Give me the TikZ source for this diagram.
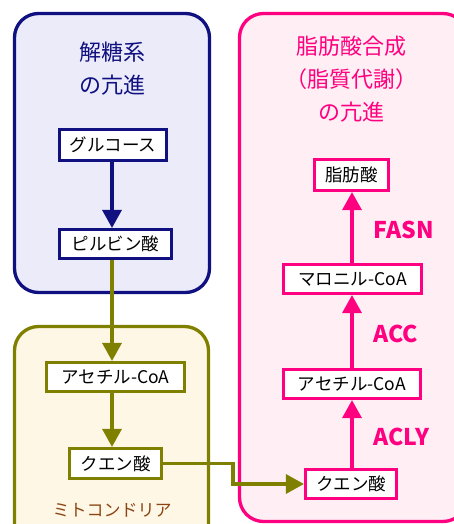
\documentclass[tikz,border=0pt]{standalone}
\usepackage{fontspec}
\setmainfont{Noto Sans CJK JP}
\usetikzlibrary{arrows.meta}
\definecolor{navy}{RGB}{16,16,128}
\definecolor{bluefill}{RGB}{235,235,250}
\definecolor{hotpink}{RGB}{255,0,128}
\definecolor{pinkfill}{RGB}{255,238,243}
\definecolor{olivec}{RGB}{128,128,0}
\definecolor{creamfill}{RGB}{255,247,230}
\definecolor{brownc}{RGB}{139,69,19}
\tikzset{
  container/.style={line width=3.3pt, rounded corners=24pt},
  molbox/.style={draw, fill=white, line width=2.6pt, inner sep=0pt,
    minimum height=29.5pt, font=\fontsize{17.5}{20}\selectfont, text=black},
  conn/.style={line width=3.2pt, -{Triangle[length=18pt,width=19pt]}},
  titletext/.style={align=center, font=\fontsize{22}{33}\selectfont},
  enzyme/.style={anchor=west, text=hotpink, font=\fontsize{23}{26}\selectfont\bfseries},
}
\begin{document}
\begin{tikzpicture}[x=1pt,y=-1pt]
\useasboundingbox (0,0) rectangle (454,524);
\begin{scope}
\clip (0,0) rectangle (454,524);
% containers
\draw[container, draw=navy, fill=bluefill] (14.5,13.5) rectangle (209.5,292.5);
\draw[container, draw=olivec, fill=creamfill] (14.5,326.5) rectangle (208.5,580);
\draw[container, draw=hotpink, fill=pinkfill] (239.5,13.5) rectangle (467,521.5);
\end{scope}
% titles
\node[titletext, text=navy] (t1) at (112,69) {解糖系\\の亢進};
\node[titletext, text=hotpink] (t2) at (351,79.5) {脂肪酸合成\\（脂質代謝）\\の亢進};
\node[text=brownc, font=\fontsize{17}{20}\selectfont] (mlab) at (112,510) {ミトコンドリア};
% left column
\node[molbox, draw=navy, minimum width=107.5pt, minimum height=31pt] (gluc) at (113,145) {グルコース};
\node[molbox, draw=navy, minimum width=112.5pt] (pyr) at (115.5,244) {ピルビン酸};
\node[molbox, draw=olivec, minimum width=138.5pt] (acL) at (115.5,377) {アセチル-CoA};
\node[molbox, draw=olivec, minimum width=92.5pt, minimum height=30.5pt] (citL) at (115.5,463.5) {クエン酸};
% right column
\node[molbox, draw=hotpink, minimum width=74.5pt, minimum height=31.5pt] (fatty) at (351.5,175) {脂肪酸};
\node[molbox, draw=hotpink, minimum width=138.5pt] (mal) at (352.5,279) {マロニル-CoA};
\node[molbox, draw=hotpink, minimum width=137.5pt] (acR) at (352,384) {アセチル-CoA};
\node[molbox, draw=hotpink, minimum width=91.5pt] (citR) at (351,484) {クエン酸};
% column coordinates
\coordinate (colL) at (112,0);
\coordinate (colR) at (352,0);
\coordinate (bend) at (233,0);
% connectors
\draw[conn, navy] (gluc.south -| colL) -- (pyr.north -| colL);
\draw[conn, olivec] (pyr.south -| colL) -- (acL.north -| colL);
\draw[conn, olivec] (acL.south -| colL) -- (citL.north -| colL);
\draw[conn, olivec] (citL.east) -- (citL.east -| bend) -- (citR.west -| bend) -- (citR.west);
\draw[conn, hotpink] (citR.north -| colR) -- (acR.south -| colR);
\draw[conn, hotpink] (acR.north -| colR) -- (mal.south -| colR);
\draw[conn, hotpink] (mal.north -| colR) -- (fatty.south -| colR);
% enzyme labels
\node[enzyme] (fasn) at (370,230) {FASN};
\node[enzyme] (acc) at (370,334) {ACC};
\node[enzyme] (acly) at (370,437) {ACLY};
\end{tikzpicture}
\end{document}
